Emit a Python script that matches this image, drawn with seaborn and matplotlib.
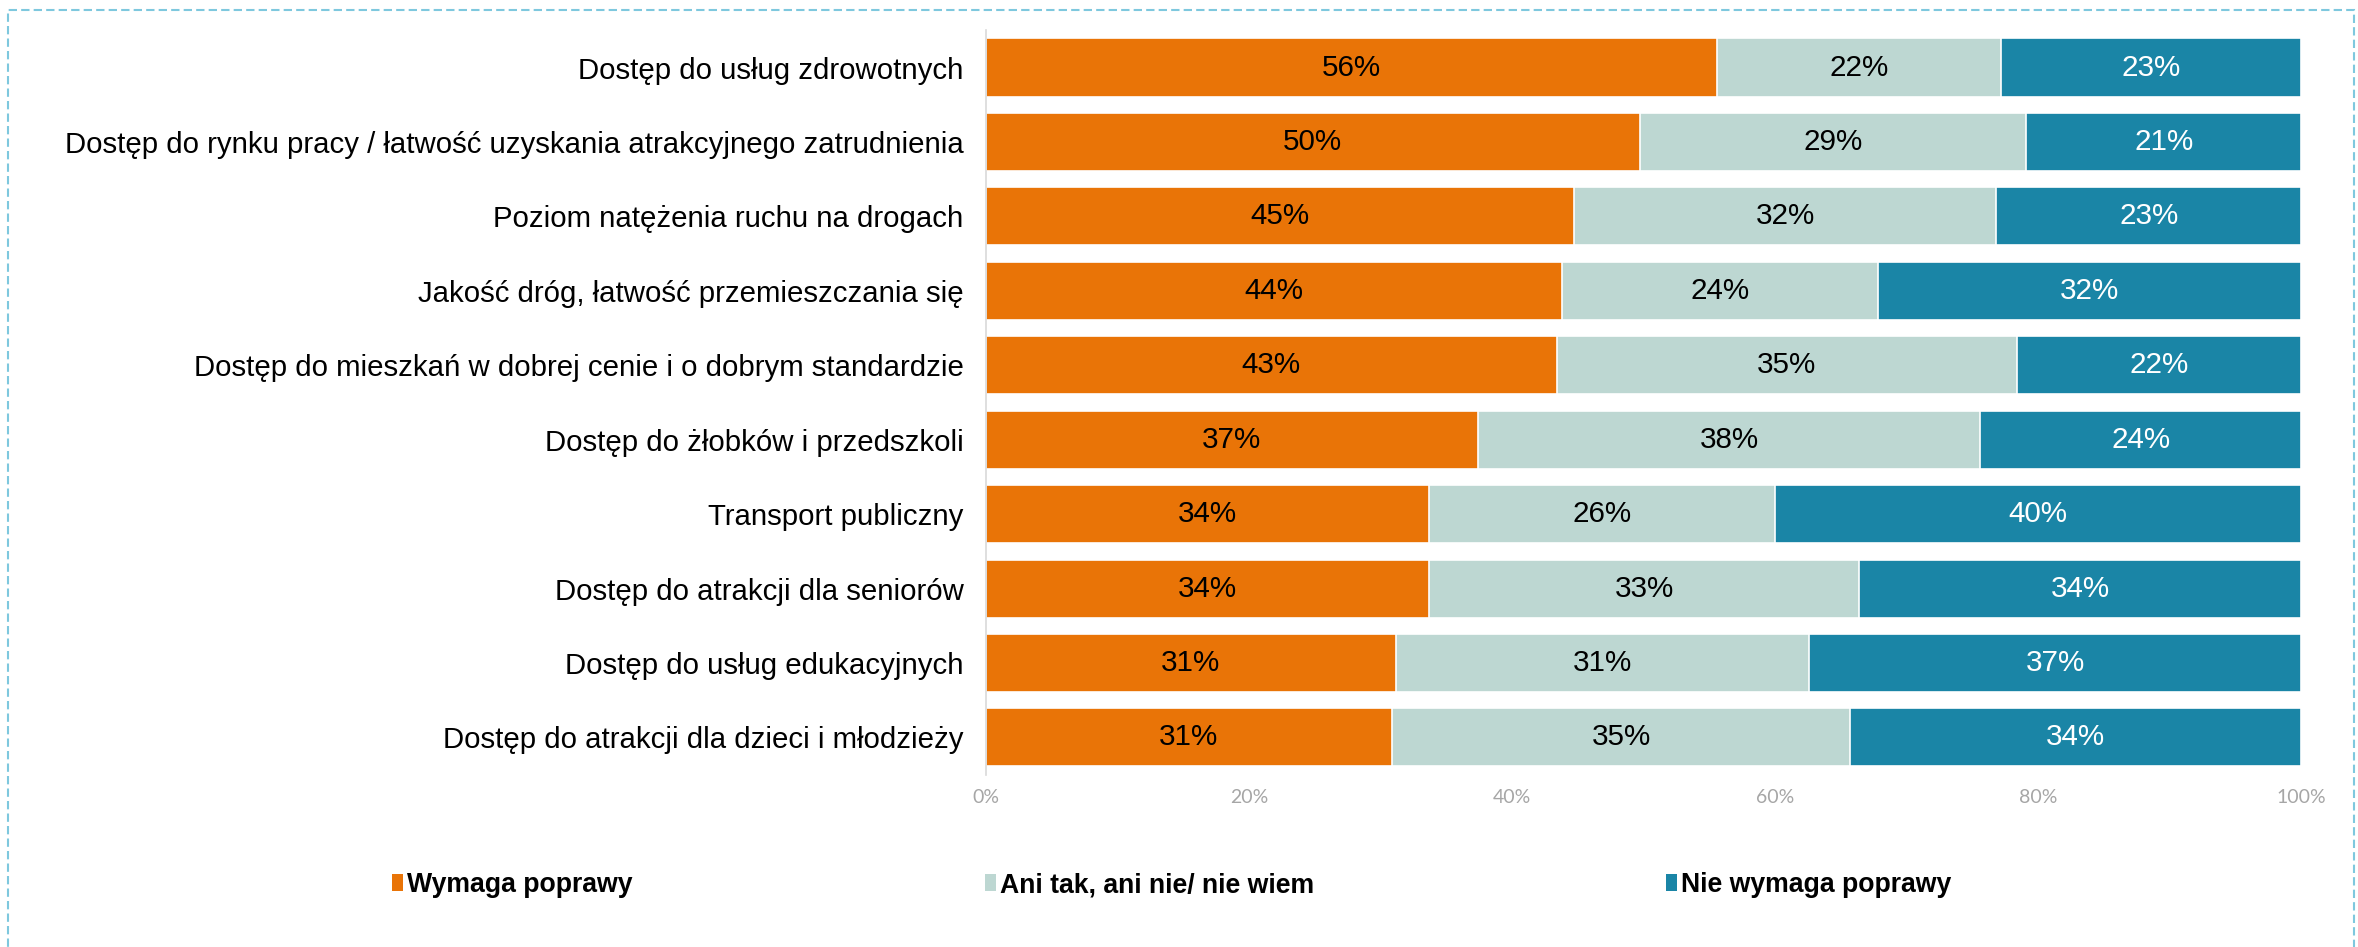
import numpy as np
import pandas as pd
import matplotlib
matplotlib.use('Agg')
import matplotlib.pyplot as plt
import seaborn as sns
from matplotlib.patches import Rectangle, Patch

# Data
categories = [
    'Dostęp do usług zdrowotnych',
    'Dostęp do rynku pracy / łatwość uzyskania atrakcyjnego zatrudnienia',
    'Poziom natężenia ruchu na drogach',
    'Jakość dróg, łatwość przemieszczania się',
    'Dostęp do mieszkań w dobrej cenie i o dobrym standardzie',
    'Dostęp do żłobków i przedszkoli',
    'Transport publiczny',
    'Dostęp do atrakcji dla seniorów',
    'Dostęp do usług edukacyjnych',
    'Dostęp do atrakcji dla dzieci i młodzieży',
]
wymaga = [55.6, 49.7, 44.7, 43.8, 43.4, 37.4, 33.7, 33.7, 31.2, 30.9]
ani_tak = [21.6, 29.4, 32.1, 24.0, 35.0, 38.2, 26.3, 32.7, 31.4, 34.8]
nie_wymaga = [22.8, 20.9, 23.2, 32.2, 21.6, 24.4, 40.0, 33.6, 37.4, 34.3]

series_names = ['Wymaga poprawy', 'Ani tak, ani nie/ nie wiem', 'Nie wymaga poprawy']
colors = ['#E97407', '#BDD7D2', '#1A85A6']
text_colors = ['black', 'black', 'white']
xticks = [0, 20, 40, 60, 80, 100]

sns.set_style('white')
plt.rcParams['font.family'] = ['Liberation Sans', 'DejaVu Sans']
plt.rcParams['text.color'] = 'black'

df = pd.DataFrame({'cat': categories, 'w': wymaga, 'a': ani_tak, 'n': nie_wymaga})
df['c1'] = df['w']
df['c2'] = df['w'] + df['a']
df['c3'] = df['w'] + df['a'] + df['n']

fig = plt.figure(figsize=(23.58, 9.47), dpi=100)
ax = fig.add_axes([0.418, 0.182, 0.558, 0.786])

# stacked bars: draw cumulative totals, largest first
for col, c in zip(['c3', 'c2', 'c1'], colors[::-1]):
    sns.barplot(data=df, x=col, y='cat', color=c, width=0.78, orient='h',
                edgecolor='white', linewidth=1.2, ax=ax, saturation=1)

# value labels in segment centres
for i, row in df.iterrows():
    starts = [0, row['c1'], row['c2']]
    vals = [row['w'], row['a'], row['n']]
    for s, v, tc in zip(starts, vals, text_colors):
        ax.text(s + v / 2, i, f'{v:.0f}%', ha='center', va='center',
                fontsize=21.3, color=tc)

ax.set_xlim(0, 100)
ax.set_xticks(xticks)
ax.set_xticklabels([f'{t}%' for t in xticks], color='#A6A6A6', fontsize=14,
                   family=['Lato', 'DejaVu Sans'])
ax.tick_params(axis='x', length=0, pad=10)
ax.tick_params(axis='y', length=0, pad=16, labelsize=21.15, labelcolor='black')
ax.set_xlabel('')
ax.set_ylabel('')
for side in ['top', 'right', 'bottom']:
    ax.spines[side].set_visible(False)
ax.spines['left'].set_color('#D9D9D9')
ax.spines['left'].set_linewidth(1.2)

handles = [Patch(facecolor=c, edgecolor='none') for c in colors]
fig.legend(handles, series_names, loc='center left',
           bbox_to_anchor=(392 / 2358, 1 - 885 / 947), ncol=3, frameon=False,
           prop={'weight': 'bold', 'size': 19.2}, handlelength=0.42,
           handleheight=0.6, handletextpad=0.15, columnspacing=13.2,
           borderpad=0, borderaxespad=0)

# dashed frame around the chart area
fig.patches.append(Rectangle((8 / 2358, -0.05), (2354 - 8) / 2358, 1.05 - 10 / 947,
                             transform=fig.transFigure, fill=False,
                             edgecolor='#7EC8DE', linewidth=1.5,
                             linestyle=(0, (4, 2))))

fig.savefig('out.png', dpi=100)
